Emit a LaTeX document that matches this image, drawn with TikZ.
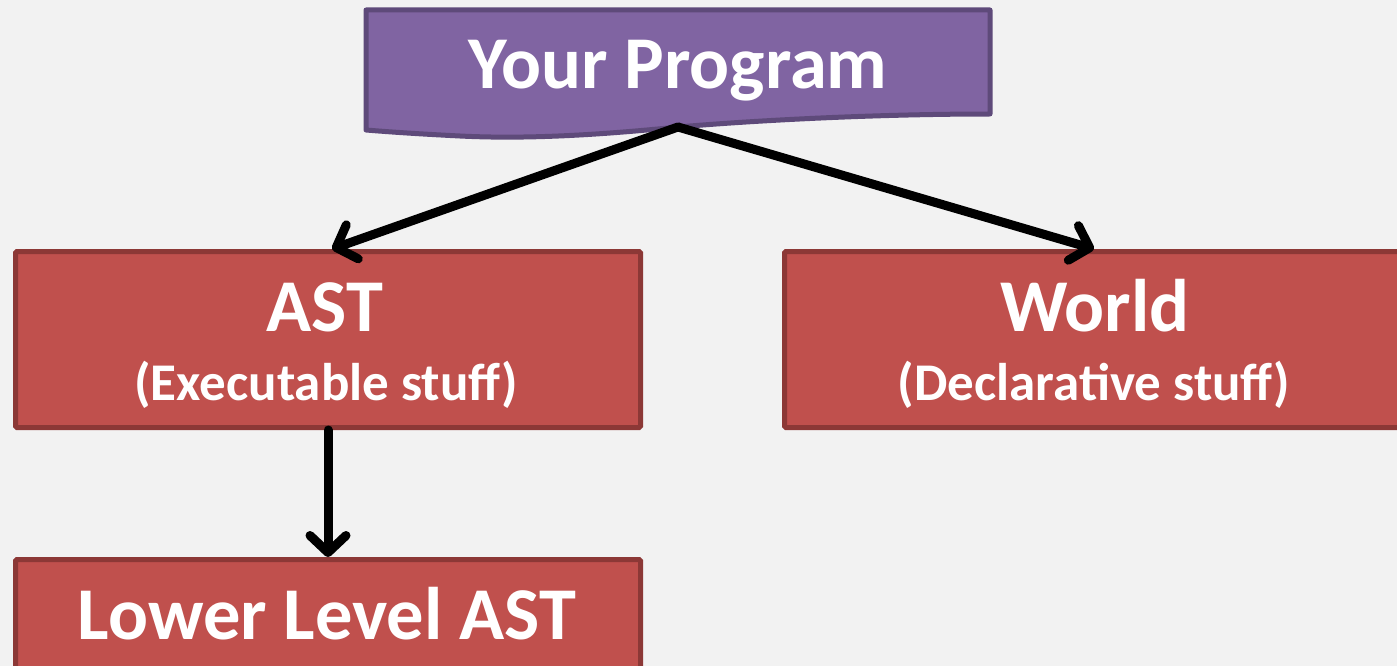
\documentclass[tikz,border=0pt]{standalone}
\usepackage{fontspec}
\setmainfont{Carlito}
\usetikzlibrary{arrows.meta,calc}
\definecolor{bg}{HTML}{F2F2F2}
\definecolor{purplefill}{HTML}{8064A2}
\definecolor{purpleline}{HTML}{5E4A7A}
\definecolor{redfill}{HTML}{C0504D}
\definecolor{redline}{HTML}{8C3836}
\tikzset{
  box/.style={draw=redline, fill=redfill, line width=5pt, rounded corners=1.5pt,
    minimum width=625pt, minimum height=176pt, inner sep=0pt, anchor=north west},
  big/.style={text=white, font=\fontsize{74.5}{74.5}\selectfont\bfseries, anchor=base, inner sep=0pt},
  small/.style={text=white, font=\fontsize{53}{53}\selectfont\bfseries, anchor=base, inner sep=0pt},
  link/.style={line width=9pt, line cap=round, line join=round,
    -{Straight Barb[length=17pt,width=36pt,round]}}
}
\begin{document}
\begin{tikzpicture}[x=1pt,y=-1pt]
  \fill[bg] (0,0) rectangle (1397,666);
  \useasboundingbox (0,0) rectangle (1397,666);

  % document-shaped top box
  \draw[draw=purpleline, fill=purplefill, line width=5pt, line join=round]
    (366,10) -- (990,10) -- (990,114)
    .. controls (880,114) and (760,120) .. (678,127)
    .. controls (590,136) and (520,139) .. (460,136)
    .. controls (420,134) and (390,132) .. (366,130) -- cycle;
  \coordinate (apex) at (678,127);
  \node[big] (prog) at (678,89) {Your Program};

  % lower boxes
  \node[box] (ast) at (13,249) {};
  \node[box] (world) at (782,249) {};
  \node[box] (lower) at (13,557) {};

  \node[big] (asttext) at (325,331) {AST};
  \node[small] (astsub) at (326,400) {(Executable stuff)};
  \node[big] (worldtext) at (1095,331) {World};
  \node[small] (worldsub) at (1094,400) {(Declarative stuff)};
  \node[big] (lowertext) at (327,639) {Lower Level AST};

  % connectors
  \draw[link] (apex) -- ($(ast.north)+(4,0)$);
  \draw[link] (apex) -- ($(world.north)+(-3,0)$);
  \draw[link] (ast.south) -- (lower.north);
\end{tikzpicture}
\end{document}
